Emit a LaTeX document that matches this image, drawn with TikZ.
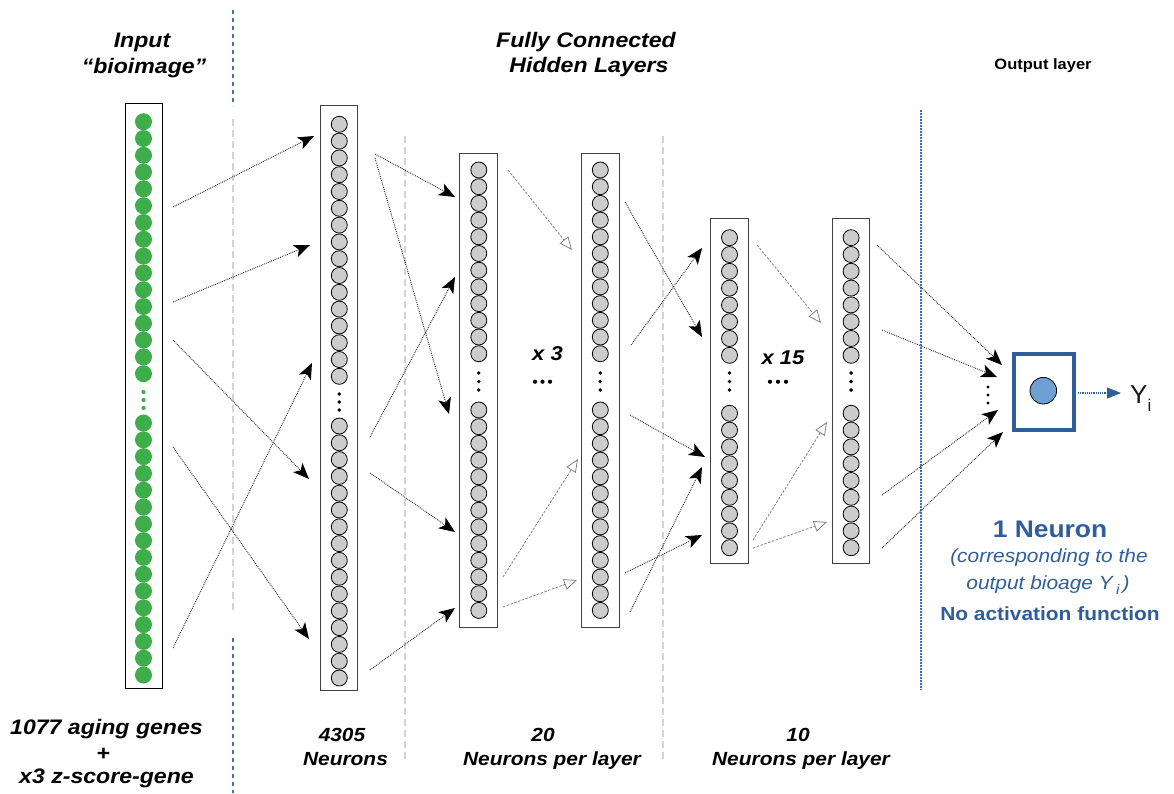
\documentclass[tikz,border=0pt]{standalone}
\usepackage{fontspec}
\setmainfont{Liberation Sans}
\newfontfamily\wfont[FakeStretch=1.1]{Liberation Sans}
\usetikzlibrary{arrows.meta}
\definecolor{ngreen}{HTML}{3DAE49}
\definecolor{ngrey}{HTML}{CCCCCC}
\definecolor{dblue}{HTML}{2F5E99}
\definecolor{sepblue}{HTML}{3B6FBF}
\definecolor{sepgrey}{HTML}{D3D3D3}
\definecolor{oblue}{HTML}{6F9FD3}
\tikzset{
  layerbox/.style={draw=black!75, line width=1pt, fill=white, inner sep=0, outer sep=0},
  neuron/.style={circle, draw=black, line width=0.8pt, fill=ngrey, minimum size=16pt, inner sep=0},
  gneuron/.style={circle, fill=ngreen, minimum size=17pt, inner sep=0},
  fwd/.style={black!85, densely dotted, line width=0.9pt, -{Stealth[length=16pt,width=13pt,inset=4pt,color=black]}},
  hop/.style={gray, dash pattern=on 2.5pt off 1.5pt, line width=0.8pt, -{Triangle[open,length=13pt,width=11pt]}},
  lbl/.style={font=\wfont\bfseries\itshape\fontsize{21}{24}\selectfont, anchor=base, inner sep=0},
  sublbl/.style={font=\wfont\bfseries\itshape\fontsize{19}{22}\selectfont, anchor=base, inner sep=0},
  bluelbl/.style={font=\wfont\fontsize{19}{22}\selectfont, text=dblue, anchor=base, inner sep=0},
}
\begin{document}
\begin{tikzpicture}[x=1pt,y=-1pt]
\useasboundingbox (0,0) rectangle (1174,793);

% separators
\draw[sepblue, line width=2pt, dash pattern=on 4pt off 4pt] (233,10) -- (233,106);
\draw[sepblue, line width=2pt, dash pattern=on 4pt off 4pt] (233,638) -- (233,793);
\draw[sepgrey, line width=2.5pt, dash pattern=on 7pt off 4pt] (233,119) -- (233,612);
\draw[sepgrey, line width=2pt, dash pattern=on 7pt off 4pt] (405,136) -- (405,763);
\draw[sepgrey, line width=2pt, dash pattern=on 7pt off 4pt] (663,136) -- (663,763);
\draw[sepblue, line width=2pt, dash pattern=on 1.5pt off 1.5pt] (921,110) -- (921,690);

% input layer
\node[layerbox, draw=black, minimum width=37pt, minimum height=585pt] (IN) at (143.5,395.5) {};
\foreach \i in {0,...,15} {
  \node[gneuron] (int\i) at (143.5,121.7+16.8*\i) {};
  \node[gneuron] (inb\i) at (143.5,423+16.8*\i) {};
}
\foreach \y in {392,400,408} \fill[ngreen] (143.5,\y) circle (2.1pt);

% hidden layer 1
\node[layerbox, minimum width=37.3pt, minimum height=585pt] (L1) at (339.3,398.2) {};
\foreach \i in {0,...,15} {
  \node[neuron] (l1t\i) at (339.3,124.3+16.8*\i) {};
  \node[neuron] (l1b\i) at (339.3,426+16.8*\i) {};
}
\foreach \y in {394,402,410} \fill (339.3,\y) circle (1.9pt);

% hidden layers 2 and 3
\foreach \nm/\x in {L2/478.8, L3/600.3} {
  \node[layerbox, minimum width=37.7pt, minimum height=473.7pt] (\nm) at (\x,390.8) {};
  \foreach \i in {0,...,11} \node[neuron] (\nm t\i) at (\x,170+16.7*\i) {};
  \foreach \i in {0,...,12} \node[neuron] (\nm b\i) at (\x,410+16.7*\i) {};
  \foreach \y in {373,381.5,390} \fill (\x,\y) circle (1.9pt);
}

% hidden layers 4 and 5
\foreach \nm/\x in {L4/729.5, L5/851.1} {
  \node[layerbox, minimum width=37.6pt, minimum height=345pt] (\nm) at (\x,390.8) {};
  \foreach \i in {0,...,7} \node[neuron] (\nm t\i) at (\x,237.7+16.8*\i) {};
  \foreach \i in {0,...,8} \node[neuron] (\nm b\i) at (\x,413.3+16.8*\i) {};
  \foreach \y in {373,381.5,390} \fill (\x,\y) circle (1.9pt);
}

% output neuron
\node[draw=dblue, line width=4pt, minimum width=60pt, minimum height=76pt, inner sep=0] (OUT) at (1044,392) {};
\node[circle, draw=black, line width=0.8pt, fill=oblue, minimum size=26.6pt, inner sep=0] (ON) at (1043.3,390.7) {};
\foreach \y in {387,395,403} \fill (988,\y) circle (1.6pt);
\node[anchor=base west, inner sep=0, font=\fontsize{26}{26}\selectfont, text=black!90] (Y) at (1130,403) {Y\raisebox{-8pt}{\fontsize{17}{17}\selectfont i}};
\coordinate (ys) at (1078,393);
\coordinate (ye) at (1121,393);
\draw[dblue, densely dotted, line width=1.2pt, -{Triangle[length=14pt,width=11pt]}] (ys) -- (ye);

% forward (black dotted) connectors
\foreach \n/\sx/\sy/\ex/\ey in {
  a1/173/207/314/136, a2/173/302/310/245, a3/173/340/309/479, a4/173/447/309/639, a5/173/648/312/363,
  b1/375/154/455/197, b2/375/158/449/414, b3/370/437/455/277, b4/370/473/455/532, b5/370/670/455/608,
  d1/625/202/702/337, d2/631/345/702/248, d3/630/415/705/457, d4/625/573/702/535, d5/630/612/702/467,
  f1/877/245/1002/365, f2/882/330/997/377, f3/882/495/998/410, f4/882/548/1003/432} {
  \coordinate (s\n) at (\sx,\sy);
  \coordinate (e\n) at (\ex,\ey);
  \draw[fwd] (s\n) -- (e\n);
}
% repeated-layer (grey dashed) connectors
\foreach \n/\sx/\sy/\ex/\ey in {
  c1/508/170/572/250, c2/503/577/578/459, c3/503/607/577/580,
  e1/757/245/821/323, e2/753/540/827/422, e3/753/548/827/522} {
  \coordinate (s\n) at (\sx,\sy);
  \coordinate (e\n) at (\ex,\ey);
  \draw[hop] (s\n) -- (e\n);
}

% repetition marks
\node[lbl, font=\wfont\bfseries\itshape\fontsize{20}{24}\selectfont] (x3) at (547.5,360) {x 3};
\foreach \x in {535,542.5,550} \fill (\x,381.7) circle (2.1pt);
\node[lbl, font=\wfont\bfseries\itshape\fontsize{20}{24}\selectfont] (x15) at (783,364) {x 15};
\foreach \x in {770,778,786} \fill (\x,381.7) circle (2.1pt);

% top labels
\node[lbl] (t1a) at (142,47) {Input};
\node[lbl] (t1b) at (144,73) {“bioimage”};
\node[lbl] (t2a) at (586,47) {Fully Connected};
\node[lbl] (t2b) at (589,72) {Hidden Layers};
\node[anchor=base, inner sep=0, font=\wfont\bfseries\fontsize{15}{18}\selectfont] (t3) at (1043,69) {Output layer};

% bottom labels
\node[lbl] (b1a) at (106.5,734) {1077 aging genes};
\node[lbl] (b1b) at (103,760) {+};
\node[lbl] (b1c) at (106.5,783) {x3 z-score-gene};
\node[sublbl] (b2a) at (342,741) {4305};
\node[sublbl] (b2b) at (345.5,765) {Neurons};
\node[sublbl] (b3a) at (543,741) {20};
\node[sublbl] (b3b) at (552,765) {Neurons per layer};
\node[sublbl] (b4a) at (798,741) {10};
\node[sublbl] (b4b) at (801,765) {Neurons per layer};

% output description
\node[bluelbl, font=\wfont\bfseries\fontsize{24}{26}\selectfont] (o1) at (1050,537) {1 Neuron};
\node[bluelbl, font=\wfont\itshape\fontsize{19}{22}\selectfont] (o2) at (1049,562) {(corresponding to the};
\node[bluelbl, font=\wfont\itshape\fontsize{19}{22}\selectfont] (o3) at (1048,589) {output bioage Y\,\raisebox{-5pt}{\fontsize{14}{14}\selectfont i}\,)};
\node[bluelbl, font=\wfont\bfseries\fontsize{19}{22}\selectfont] (o4) at (1050,620) {No activation function};
\end{tikzpicture}
\end{document}
